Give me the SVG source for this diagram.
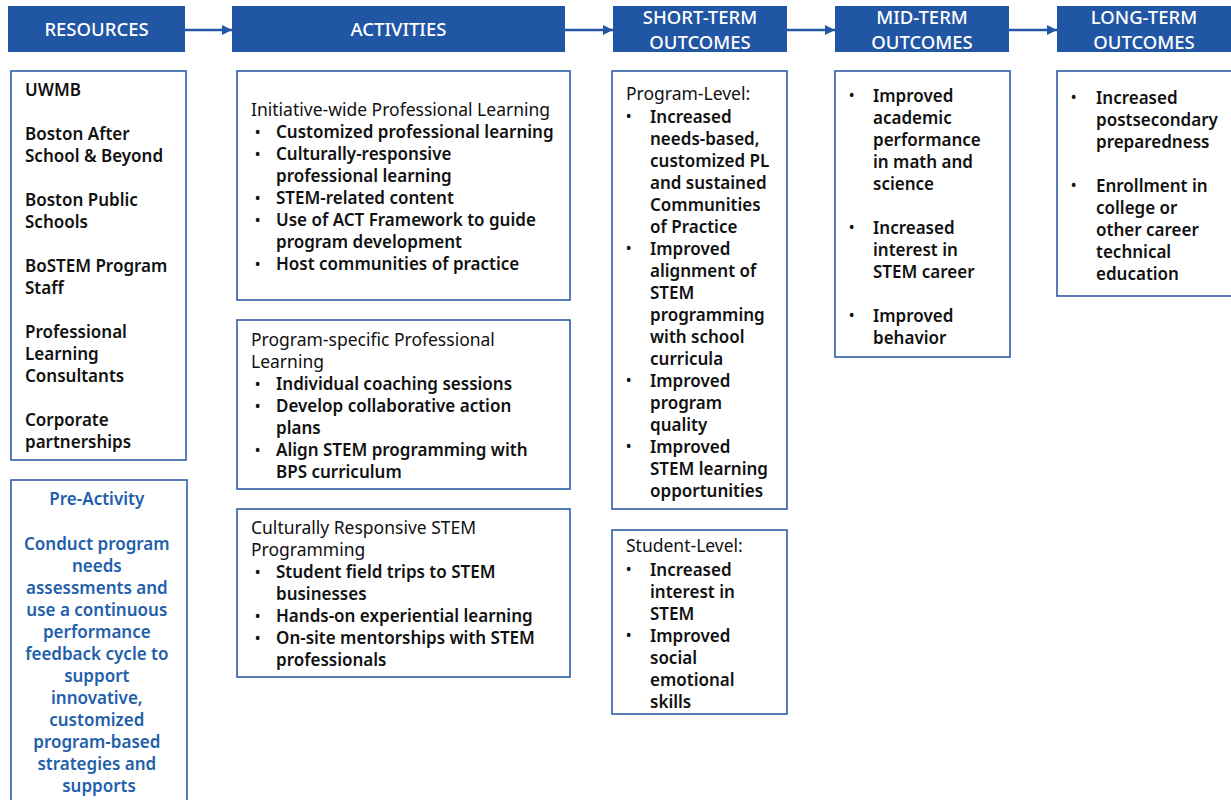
<svg xmlns="http://www.w3.org/2000/svg" width="1231" height="800" viewBox="0 0 1231 800">
  <defs>
    <marker id="arrow" viewBox="0 0 10 10" refX="10" refY="5" markerWidth="10" markerHeight="11" orient="auto" markerUnits="userSpaceOnUse">
      <path d="M0,0 L10,5 L0,10 z" fill="#2457a5"/>
    </marker>
    <style>
      text { font-family: "Noto Sans", "Open Sans", sans-serif; }
      .hdr { fill: #2156a5; }
      .hdrtxt { fill: #ffffff; font-size: 18.5px; font-weight: 500; text-anchor: middle; }
      .box { fill: #ffffff; stroke: #2f5ea8; stroke-width: 1.6; }
      .body { fill: #111111; font-size: 17px; font-weight: 600; }
      .bul { fill: #111111; font-size: 14px; font-weight: 600; }
      .head { fill: #111111; font-size: 17.5px; font-weight: 400; }
      .pre { fill: #1f60ab; font-size: 17px; font-weight: 600; text-anchor: middle; }
      .conn { stroke: #2457a5; stroke-width: 2.5; fill: none; }
    </style>
  </defs>
  <rect width="1231" height="800" fill="#ffffff"/>

  <!-- column headers -->
  <g id="hdr-resources">
    <rect class="hdr" x="8" y="6" width="177" height="46"/>
    <text class="hdrtxt" x="96.5" y="35.5">RESOURCES</text>
  </g>
  <g id="hdr-activities">
    <rect class="hdr" x="232" y="6" width="333" height="46"/>
    <text class="hdrtxt" x="398.5" y="35.5">ACTIVITIES</text>
  </g>
  <g id="hdr-short">
    <rect class="hdr" x="613" y="6" width="174" height="46"/>
    <text class="hdrtxt"><tspan x="700" y="23.5">SHORT-TERM</tspan><tspan x="700" y="49">OUTCOMES</tspan></text>
  </g>
  <g id="hdr-mid">
    <rect class="hdr" x="835" y="6" width="174" height="46"/>
    <text class="hdrtxt"><tspan x="922" y="23.5">MID-TERM</tspan><tspan x="922" y="49">OUTCOMES</tspan></text>
  </g>
  <g id="hdr-long">
    <rect class="hdr" x="1057" y="6" width="180" height="46"/>
    <text class="hdrtxt"><tspan x="1144" y="23.5">LONG-TERM</tspan><tspan x="1144" y="49">OUTCOMES</tspan></text>
  </g>

  <!-- connectors between headers -->
  <g id="connectors">
    <line class="conn" x1="185" y1="30" x2="232" y2="30" marker-end="url(#arrow)"/>
    <line class="conn" x1="565" y1="30" x2="613" y2="30" marker-end="url(#arrow)"/>
    <line class="conn" x1="787" y1="30" x2="835" y2="30" marker-end="url(#arrow)"/>
    <line class="conn" x1="1009" y1="30" x2="1057" y2="30" marker-end="url(#arrow)"/>
  </g>

  <!-- resources -->
  <g id="resources">
    <rect class="box" x="11" y="71" width="175" height="389"/>
    <text class="body">
      <tspan x="25" y="96">UWMB</tspan>
      <tspan x="25" y="140">Boston After</tspan>
      <tspan x="25" y="162">School &amp; Beyond</tspan>
      <tspan x="25" y="206">Boston Public</tspan>
      <tspan x="25" y="228">Schools</tspan>
      <tspan x="25" y="272">BoSTEM Program</tspan>
      <tspan x="25" y="294">Staff</tspan>
      <tspan x="25" y="338">Professional</tspan>
      <tspan x="25" y="360">Learning</tspan>
      <tspan x="25" y="382">Consultants</tspan>
      <tspan x="25" y="426">Corporate</tspan>
      <tspan x="25" y="448">partnerships</tspan>
    </text>
  </g>

  <g id="pre-activity">
    <rect class="box" x="11" y="480" width="176" height="330"/>
    <text class="pre">
      <tspan x="99" y="505">Pre-Activity</tspan>
      <tspan x="99" y="550">Conduct program</tspan>
      <tspan x="99" y="572">needs</tspan>
      <tspan x="99" y="594">assessments and</tspan>
      <tspan x="99" y="616">use a continuous</tspan>
      <tspan x="99" y="638">performance</tspan>
      <tspan x="99" y="660">feedback cycle to</tspan>
      <tspan x="99" y="682">support</tspan>
      <tspan x="99" y="704">innovative,</tspan>
      <tspan x="99" y="726">customized</tspan>
      <tspan x="99" y="748">program-based</tspan>
      <tspan x="99" y="770">strategies and</tspan>
      <tspan x="99" y="792">supports</tspan>
    </text>
  </g>

  <!-- activities -->
  <g id="act-initiative">
    <rect class="box" x="237" y="71" width="333" height="229"/>
    <text class="head" x="251" y="116">Initiative-wide Professional Learning</text>
    <text class="bul">
      <tspan x="255" y="137">•</tspan>
      <tspan x="255" y="159">•</tspan>
      <tspan x="255" y="203">•</tspan>
      <tspan x="255" y="225">•</tspan>
      <tspan x="255" y="269">•</tspan>
    </text>
    <text class="body">
      <tspan x="276" y="138">Customized professional learning</tspan>
      <tspan x="276" y="160">Culturally-responsive</tspan>
      <tspan x="276" y="182">professional learning</tspan>
      <tspan x="276" y="204">STEM-related content</tspan>
      <tspan x="276" y="226">Use of ACT Framework to guide</tspan>
      <tspan x="276" y="248">program development</tspan>
      <tspan x="276" y="270">Host communities of practice</tspan>
    </text>
  </g>
  <g id="act-program">
    <rect class="box" x="237" y="320" width="333" height="169"/>
    <text class="head">
      <tspan x="251" y="346">Program-specific Professional</tspan>
      <tspan x="251" y="368">Learning</tspan>
    </text>
    <text class="bul">
      <tspan x="255" y="389">•</tspan>
      <tspan x="255" y="411">•</tspan>
      <tspan x="255" y="455">•</tspan>
    </text>
    <text class="body">
      <tspan x="276" y="390">Individual coaching sessions</tspan>
      <tspan x="276" y="412">Develop collaborative action</tspan>
      <tspan x="276" y="434">plans</tspan>
      <tspan x="276" y="456">Align STEM programming with</tspan>
      <tspan x="276" y="478">BPS curriculum</tspan>
    </text>
  </g>
  <g id="act-crs">
    <rect class="box" x="237" y="509" width="333" height="168"/>
    <text class="head">
      <tspan x="251" y="534">Culturally Responsive STEM</tspan>
      <tspan x="251" y="556">Programming</tspan>
    </text>
    <text class="bul">
      <tspan x="255" y="577">•</tspan>
      <tspan x="255" y="621">•</tspan>
      <tspan x="255" y="643">•</tspan>
    </text>
    <text class="body">
      <tspan x="276" y="578">Student field trips to STEM</tspan>
      <tspan x="276" y="600">businesses</tspan>
      <tspan x="276" y="622">Hands-on experiential learning</tspan>
      <tspan x="276" y="644">On-site mentorships with STEM</tspan>
      <tspan x="276" y="666">professionals</tspan>
    </text>
  </g>

  <!-- short-term outcomes -->
  <g id="short-program">
    <rect class="box" x="612" y="71" width="175" height="438"/>
    <text class="head" x="626" y="100">Program-Level:</text>
    <text class="bul">
      <tspan x="626" y="121">•</tspan>
      <tspan x="626" y="253">•</tspan>
      <tspan x="626" y="385">•</tspan>
      <tspan x="626" y="451">•</tspan>
    </text>
    <text class="body">
      <tspan x="650" y="123">Increased</tspan>
      <tspan x="650" y="145">needs-based,</tspan>
      <tspan x="650" y="167">customized PL</tspan>
      <tspan x="650" y="189">and sustained</tspan>
      <tspan x="650" y="211">Communities</tspan>
      <tspan x="650" y="233">of Practice</tspan>
      <tspan x="650" y="255">Improved</tspan>
      <tspan x="650" y="277">alignment of</tspan>
      <tspan x="650" y="299">STEM</tspan>
      <tspan x="650" y="321">programming</tspan>
      <tspan x="650" y="343">with school</tspan>
      <tspan x="650" y="365">curricula</tspan>
      <tspan x="650" y="387">Improved</tspan>
      <tspan x="650" y="409">program</tspan>
      <tspan x="650" y="431">quality</tspan>
      <tspan x="650" y="453">Improved</tspan>
      <tspan x="650" y="475">STEM learning</tspan>
      <tspan x="650" y="497">opportunities</tspan>
    </text>
  </g>
  <g id="short-student">
    <rect class="box" x="612" y="530" width="175" height="184"/>
    <text class="head" x="626" y="552">Student-Level:</text>
    <text class="bul">
      <tspan x="626" y="574">•</tspan>
      <tspan x="626" y="640">•</tspan>
    </text>
    <text class="body">
      <tspan x="650" y="576">Increased</tspan>
      <tspan x="650" y="598">interest in</tspan>
      <tspan x="650" y="620">STEM</tspan>
      <tspan x="650" y="642">Improved</tspan>
      <tspan x="650" y="664">social</tspan>
      <tspan x="650" y="686">emotional</tspan>
      <tspan x="650" y="708">skills</tspan>
    </text>
  </g>

  <!-- mid-term outcomes -->
  <g id="mid">
    <rect class="box" x="835" y="71" width="175" height="286"/>
    <text class="bul">
      <tspan x="849" y="100">•</tspan>
      <tspan x="849" y="232">•</tspan>
      <tspan x="849" y="320">•</tspan>
    </text>
    <text class="body">
      <tspan x="873" y="102">Improved</tspan>
      <tspan x="873" y="124">academic</tspan>
      <tspan x="873" y="146">performance</tspan>
      <tspan x="873" y="168">in math and</tspan>
      <tspan x="873" y="190">science</tspan>
      <tspan x="873" y="234">Increased</tspan>
      <tspan x="873" y="256">interest in</tspan>
      <tspan x="873" y="278">STEM career</tspan>
      <tspan x="873" y="322">Improved</tspan>
      <tspan x="873" y="344">behavior</tspan>
    </text>
  </g>

  <!-- long-term outcomes -->
  <g id="long">
    <rect class="box" x="1057" y="71" width="190" height="225"/>
    <text class="bul">
      <tspan x="1071" y="102">•</tspan>
      <tspan x="1071" y="190">•</tspan>
    </text>
    <text class="body">
      <tspan x="1096" y="104">Increased</tspan>
      <tspan x="1096" y="126">postsecondary</tspan>
      <tspan x="1096" y="148">preparedness</tspan>
      <tspan x="1096" y="192">Enrollment in</tspan>
      <tspan x="1096" y="214">college or</tspan>
      <tspan x="1096" y="236">other career</tspan>
      <tspan x="1096" y="258">technical</tspan>
      <tspan x="1096" y="280">education</tspan>
    </text>
  </g>
</svg>
